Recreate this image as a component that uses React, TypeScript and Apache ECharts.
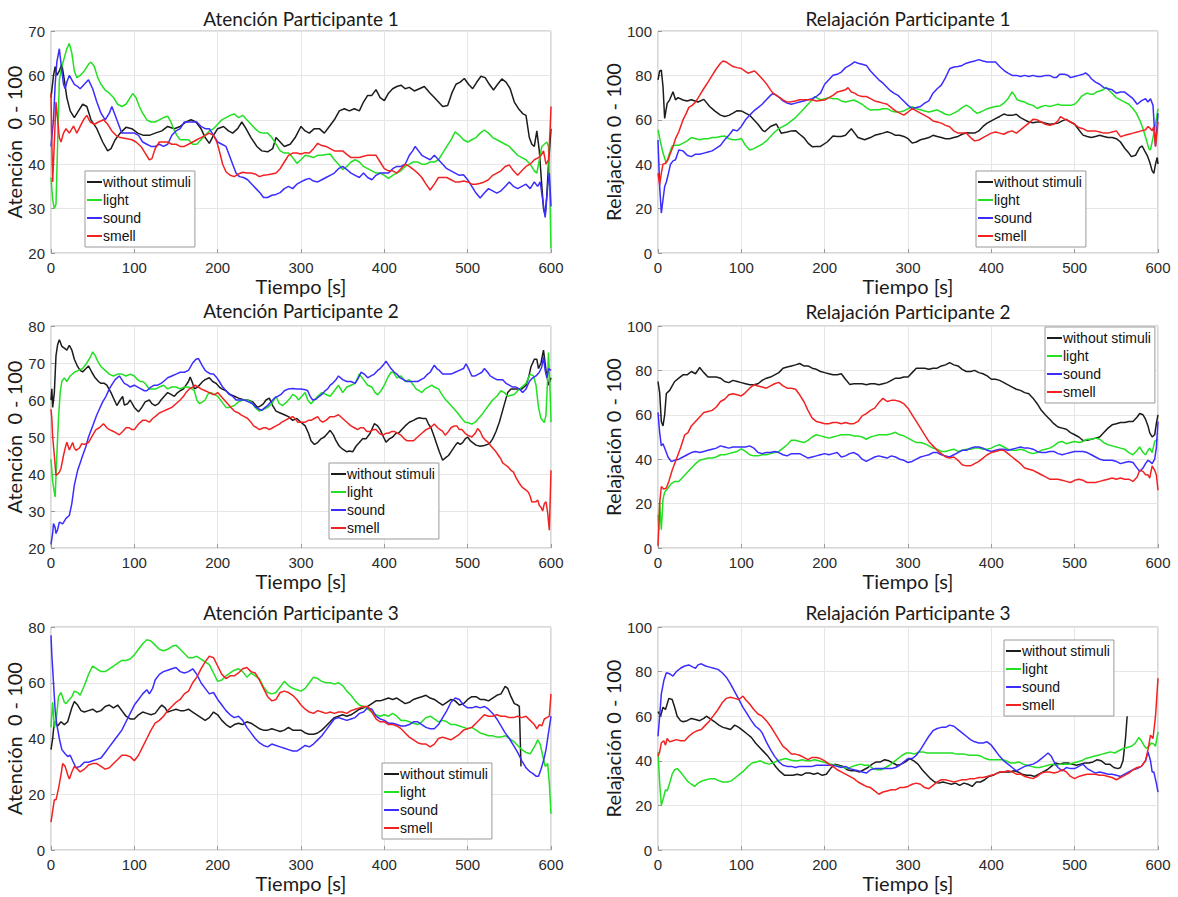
import React, { useEffect, useRef } from "react";
import * as echarts from "echarts";

type Pt = [number, number];

// ---------- texts & scales ----------
const SERIES_NAMES = ["without stimuli", "light", "sound", "smell"];
const X_NAME = "Tiempo [s]";
const X_MIN = 0;
const X_MAX = 600;
const X_STEP = 100;
const TITLES = [
  "Atención Participante 1",
  "Relajación Participante 1",
  "Atención Participante 2",
  "Relajación Participante 2",
  "Atención Participante 3",
  "Relajación Participante 3",
];
const Y_NAMES = [
  "Atención  0 - 100",
  "Relajación 0 - 100",
  "Atención  0 - 100",
  "Relajación 0 - 100",
  "Atención  0 - 100",
  "Relajación 0 - 100",
];
const Y_MIN = [20, 0, 20, 0, 0, 0];
const Y_MAX = [70, 100, 80, 100, 80, 100];
const Y_STEP = [10, 20, 10, 20, 20, 20];

// ---------- data: [time s, value] ----------
const att1None: Pt[] = [[0,55],[3,60],[5,62],[7,60],[10,61],[13,62.5],[16,59],[19,55],[23,52],[28,50.5],[33,52],[38,53.5],[43,53],[48,50],[55,48],[62,45],[68,43],[72,43.5],[77,45.5],[83,47],[90,48.3],[97,48],[104,47],[111,46.5],[118,46.5],[125,47],[133,47.5],[140,48.5],[148,48],[155,48.5],[162,49.5],[168,50],[174,49.5],[180,48],[185,46],[190,44.7],[195,46.5],[200,48],[207,48.5],[213,47.5],[218,47],[224,48],[229,49.5],[234,48],[240,46],[247,44],[253,43],[260,42.8],[266,43.5],[270,46],[275,45],[280,44],[287,44.5],[293,46],[300,48.5],[305,47.5],[310,47],[316,48],[322,48],[328,47],[334,48.5],[340,50],[346,52],[352,52.5],[358,52],[364,52.5],[370,52],[375,54],[380,55.5],[385,55.5],[390,56.8],[395,55],[400,54.3],[405,56],[410,57],[415,57.5],[420,57.8],[425,57],[430,57.3],[436,56.5],[442,57],[448,57.5],[455,56],[460,55],[465,54],[470,53],[476,53.2],[481,56],[486,58],[491,58.5],[496,59.3],[501,58],[506,57],[511,58.5],[516,59.8],[521,59.5],[526,58],[531,56.7],[536,58],[541,59.2],[546,58.5],[551,57],[556,54],[561,52.5],[566,51.4],[570,51],[574,46],[577,44.5],[580,44],[583,47.5],[586,43],[589,35],[591,30],[593,28.5],[595,33],[597,40],[600,48]];
const att1Light: Pt[] = [[0,37],[2,32],[4,30],[6,31],[8,45],[10,59],[13,62],[16,64],[19,66],[22,67.2],[25,65],[28,61],[31,59.5],[35,60],[40,61],[45,62.5],[48,63],[52,62],[56,59.5],[60,58],[65,56.7],[70,56],[75,55],[80,53.5],[85,53],[90,53.5],[95,55],[98,55.9],[102,55],[106,53],[110,51.5],[115,50],[120,49.5],[125,49.5],[130,50],[135,50.5],[140,50.8],[144,49.5],[147,48],[151,46.5],[155,45.5],[160,45.5],[165,45.5],[170,44.5],[175,44.5],[180,45.5],[185,46.5],[190,47.5],[195,48],[200,49],[205,50],[210,50.5],[215,51],[220,51.3],[225,50.5],[230,51],[235,50],[240,49],[245,48],[250,47.2],[255,47],[260,47],[265,46],[270,44.5],[275,43],[280,42.5],[285,42.5],[290,41.5],[295,40.2],[300,41],[305,42],[310,41.8],[315,41.5],[320,42],[325,42],[330,42.2],[335,42.3],[340,41],[345,40],[350,38.8],[355,39.5],[360,40.5],[365,41],[370,40.5],[375,39.5],[380,39],[385,38.5],[390,38],[395,38],[400,37.5],[405,36.8],[410,37.5],[415,38],[420,38.5],[425,39.5],[430,40],[435,40.5],[440,40.5],[445,40],[450,40],[455,40.5],[460,40.5],[465,41],[470,42.5],[475,44],[480,45.5],[485,47.3],[490,46.5],[495,45.5],[500,45],[505,45.5],[510,46],[515,47],[520,47.7],[525,47],[530,46],[535,45.5],[540,45],[545,44.5],[550,44],[555,43],[560,42],[565,41.5],[570,41],[575,40],[580,38.5],[583,38],[586,41],[589,44],[592,44.5],[595,45],[597,44],[599,30],[600,21]];
const att1Sound: Pt[] = [[0,44],[3,50],[5,58],[7,63],[10,66],[13,61],[15,58],[17,57],[19,58.5],[22,60],[25,59],[28,58],[32,57.5],[35,57],[40,58],[45,59],[50,57],[55,54],[60,51.5],[65,50],[70,51.5],[73,53],[77,51],[81,49],[85,47],[90,47],[95,47],[100,47],[105,46.5],[110,45],[115,44.5],[120,44],[125,44],[130,44.5],[135,44],[140,44.5],[145,46.5],[150,47.5],[155,48],[160,49.5],[165,49.5],[170,49.5],[175,49.5],[180,48.5],[185,48],[190,48],[195,46.5],[200,45],[205,44.5],[210,44],[214,42],[218,40],[222,38],[226,37.2],[231,37],[236,36.5],[241,35.5],[246,34.5],[251,33.5],[255,32.5],[260,32.5],[265,33],[270,33.2],[275,33.6],[280,34.5],[285,35],[290,34.5],[295,35.5],[300,36],[305,36.5],[310,36.8],[315,36.2],[320,36],[325,36.5],[330,37],[335,37.5],[340,38],[345,39],[350,39.5],[355,38.8],[360,38],[365,37.5],[370,37],[375,38],[380,37],[385,36.5],[390,37.5],[395,38],[400,38],[405,38],[410,39],[415,39.5],[420,39.5],[425,40],[430,42],[434,43],[437,44],[441,43],[445,42],[450,41.5],[455,41],[460,42],[465,41],[470,40],[475,39],[480,38.5],[485,38],[490,37.5],[495,37.6],[500,36.5],[505,35],[510,33.5],[515,32.4],[520,33.5],[525,34.5],[530,34],[535,33.5],[540,34],[545,35],[550,36],[555,35],[560,34.5],[565,35],[570,35.5],[575,34.5],[580,36],[584,35],[587,36],[590,32],[593,28],[596,35],[598,38],[600,30.5]];
const att1Smell: Pt[] = [[0,56],[1,45],[2,36],[4,45],[6,54],[8,50],[10,46],[12,45],[15,47],[18,48],[22,47],[27,48.6],[31,47],[35,48.5],[39,50],[43,51],[47,49.5],[52,49],[57,49.5],[63,50],[68,49],[73,47.5],[78,46.5],[83,46],[90,45.8],[97,45.5],[102,45],[108,44],[113,42.5],[118,41],[121,41.2],[125,43.5],[130,45],[135,45],[140,45],[145,44.5],[150,44.5],[155,44],[160,44],[165,44.5],[170,45],[175,45.5],[180,46],[185,46.5],[190,47],[195,46.5],[199,45],[202,43],[206,40],[210,38.3],[215,37.5],[220,37.2],[225,37.8],[230,38.2],[235,38],[240,38],[245,37.8],[250,37.2],[255,37.5],[260,37.6],[265,37.8],[270,38],[275,39],[280,40.5],[285,42],[290,42.5],[295,42.5],[300,42.3],[305,42.6],[310,42.5],[315,43.5],[320,44.7],[325,44.2],[330,44],[335,43.5],[340,43],[345,43],[350,43],[355,42.2],[360,41.5],[365,41.5],[370,41.5],[375,41.8],[380,42],[385,42],[390,42],[395,40.5],[400,39],[405,38.5],[410,38.5],[415,38],[420,39],[425,40],[430,39.5],[435,38.8],[440,38],[445,37],[450,35.5],[455,34.2],[460,35.5],[465,37],[470,37],[475,37],[480,36.5],[485,36],[490,36],[495,36.2],[500,36],[505,35.5],[510,35.5],[515,35.7],[520,36],[525,36.5],[530,37.5],[535,38],[540,38.5],[545,39.5],[550,39.8],[555,38.5],[560,37.5],[565,38.5],[570,39.5],[575,40],[580,41],[585,41.5],[588,42],[591,43],[594,40],[597,41],[599,48],[600,53]];

const rel1None: Pt[] = [[0,78],[2,82],[4,82.3],[6,75],[8,60.6],[11,67.4],[14,69],[18,72.6],[21,69],[24,70],[30,68.9],[35,68.5],[40,69],[48,68],[55,69.2],[62,66],[68,64],[75,62.1],[80,61.5],[85,62],[90,63],[95,64.1],[100,64],[105,63],[110,62],[115,60],[120,58],[125,55.5],[128,54.6],[135,57],[142,58.1],[148,53.9],[155,54.5],[160,55],[165,55.1],[170,53.5],[175,52],[180,49.5],[185,47.9],[190,48],[195,48],[203,50],[210,52.7],[215,52.5],[220,52.5],[225,53],[232,56],[236,54],[240,52],[248,51],[255,52],[260,53],[265,53.5],[270,54],[275,54.6],[280,54],[285,53],[290,53],[295,52.5],[300,51.5],[305,49.5],[310,50],[315,51],[320,51.5],[325,52],[330,53],[335,52.5],[340,52],[345,51.5],[350,51.5],[355,52],[360,52.5],[365,53.5],[370,54.2],[375,54],[380,54],[385,55],[390,57],[395,58.5],[400,59.5],[405,60.5],[410,61.5],[415,62.6],[420,62],[425,62],[430,62.5],[435,61],[440,60],[445,59],[450,58.7],[455,59],[460,59],[465,58.5],[470,58],[475,58.2],[480,58.5],[485,59.5],[490,60.2],[495,59],[500,58],[505,55.5],[510,53.1],[515,52.5],[520,52],[525,52.5],[530,53],[535,52.5],[540,52],[545,52],[550,51.5],[555,50],[560,47.2],[565,45],[568,43.4],[573,44],[578,47.5],[581,48.2],[584,46],[587,44],[590,41],[593,37],[595,35.9],[597,40],[599,43],[600,40]];
const rel1Light: Pt[] = [[0,55.4],[3,50],[6,45],[10,40.4],[13,44],[17,48.2],[21,48.5],[25,48.5],[30,49.5],[35,50.5],[40,52],[45,51.5],[50,51],[55,51.5],[60,51.5],[65,52],[70,52],[75,52.5],[80,52.7],[85,51.5],[90,51],[95,51],[100,51.6],[105,48.5],[110,46.4],[115,47],[120,48],[125,49],[130,50.5],[135,52.5],[140,54.5],[145,56],[150,57],[155,58],[160,59.5],[165,61],[170,63],[175,65],[180,67],[185,69],[188,70.4],[192,69.5],[196,69],[200,69.5],[205,70],[210,69.5],[215,69.5],[220,68.5],[225,68],[230,68.5],[235,68.9],[240,68],[245,67],[250,65.5],[255,64.4],[260,64.5],[265,64.5],[270,65],[275,65],[280,64],[285,63.5],[290,63.5],[295,64],[300,65],[305,65.9],[310,65],[315,64.5],[320,64],[325,63.5],[330,64],[335,64.5],[340,63.5],[345,62.5],[350,62.1],[355,63],[360,64],[365,65.5],[370,66.6],[375,65.5],[379,64],[383,62.9],[387,63.5],[390,64],[395,65],[400,65.5],[405,66],[410,66.2],[415,67.5],[420,69.5],[425,72.6],[428,71],[431,69],[435,68.5],[440,68],[445,67],[450,66.5],[455,65.1],[460,66],[465,66.5],[470,66],[475,66.5],[480,67],[485,66.5],[490,66.5],[495,66.5],[500,67],[504,68.5],[508,70.5],[512,71.5],[515,72],[519,71.5],[522,71.5],[526,72.5],[530,73],[534,73.5],[538,74.6],[542,73],[546,71.5],[550,70],[555,69],[560,68],[565,67],[570,65],[574,63],[578,60],[582,56],[586,51],[589,47],[591,46.4],[594,52],[597,58],[600,65]];
const rel1Sound: Pt[] = [[0,50.9],[2,30],[4,18],[6,24],[8,29.9],[10,32],[12,35],[15,40],[18,41.5],[21,42],[25,46.4],[30,46],[35,44],[40,43.4],[45,44.5],[50,44.5],[55,45],[60,45.5],[65,46],[70,47.2],[75,48.5],[80,51],[85,53],[90,55.5],[95,55],[100,57],[105,60],[110,62.1],[115,64],[120,65.5],[125,67],[130,69],[135,71],[138,71.9],[142,71],[146,70],[150,68.5],[155,67.5],[160,67],[165,67.5],[170,68],[175,68.5],[180,69],[185,69.5],[190,70.5],[195,72],[200,76],[205,78],[210,80.1],[215,80.5],[220,81.5],[225,83.5],[230,84.5],[236,86.1],[240,85.5],[245,85],[250,84.5],[255,82],[260,80],[265,78],[270,76.5],[278,73.4],[283,72],[288,71],[292,69.5],[296,68],[300,66.5],[305,65.1],[310,65.5],[315,66],[320,67.5],[325,68.5],[330,72],[335,74],[340,75.6],[345,79],[350,83],[355,83.8],[360,84],[365,84.5],[370,85.5],[375,86],[380,86.5],[385,87.1],[390,86.5],[395,86],[400,86],[405,86],[410,84],[415,82.3],[420,81],[425,80],[430,80],[435,79.5],[440,80],[445,79.5],[450,80],[455,79.5],[460,79.5],[465,80],[470,80],[475,79],[478,79],[482,80.5],[488,80.5],[492,80],[495,79],[500,79.5],[505,80],[510,80.5],[513,81.1],[517,80],[520,78.5],[525,77],[530,76],[535,74.5],[540,74],[545,73.5],[550,72],[555,72.5],[560,72.5],[565,71],[570,69.5],[575,67],[580,68.5],[585,69.5],[588,68],[591,69.5],[594,66.5],[597,48],[600,63]];
const rel1Smell: Pt[] = [[0,36],[2,30.7],[4,36],[6,40],[9,40.4],[12,42],[15,45],[18,48],[21,51.5],[25,54.6],[30,60],[34,63],[37,65.6],[41,66.5],[45,68],[50,71],[55,74.1],[60,77],[65,80],[70,83],[75,85.5],[78,86.5],[82,86],[86,85],[90,84],[95,83.5],[100,83.1],[104,82],[108,81],[112,81.5],[116,82],[120,80.5],[125,78.5],[130,76.3],[135,73.5],[138,72],[142,71.1],[146,70],[150,69],[155,68],[160,68.1],[165,68.5],[170,69],[175,69],[180,69],[185,69],[190,68.5],[195,68.7],[200,68.9],[205,70],[210,71],[215,72.5],[220,73],[225,73.5],[228,74.5],[232,72.5],[236,72],[240,71],[245,70.5],[250,70.5],[255,69.5],[260,68.5],[265,68],[270,67.5],[275,67],[280,65.5],[285,64],[290,63],[295,62.1],[300,63.5],[305,65],[310,64],[315,63],[320,62],[325,61],[330,59.5],[335,59],[340,58.5],[345,57.5],[350,56.9],[355,55],[360,54],[365,54],[370,54],[375,52],[380,50.5],[385,50.9],[390,52],[395,53],[400,54],[405,54.5],[410,54],[415,53.5],[420,54.5],[425,55],[430,54],[435,55.5],[440,57],[445,58.5],[450,60.2],[455,60],[460,59],[465,58],[470,57.5],[475,58],[480,59.5],[483,61.4],[487,60.5],[490,60],[495,59],[500,58],[505,56.5],[510,56],[515,55],[520,55],[525,55],[530,54.5],[535,54],[540,54],[545,54.5],[550,55],[555,52.4],[560,53],[565,53.5],[570,54],[575,54.5],[580,55],[585,55.5],[588,57],[591,56],[593,55],[595,57],[597,48],[600,59]];

const att2None: Pt[] = [[0,60],[1,63],[2,58],[4,62],[6,72],[8,75],[10,76.3],[13,74.5],[16,74],[19,73.5],[22,74.8],[25,73.5],[28,71],[32,69],[35,68],[38,67.6],[42,68.5],[45,69.2],[49,67.5],[53,66],[57,65],[60,64.5],[64,64.5],[67,64],[72,62],[76,60],[79,58.5],[83,60],[86,61],[88,58.6],[92,59],[95,60],[100,58],[105,56.8],[109,58],[113,59.5],[118,60],[121,59],[125,58.5],[129,59],[132,60],[136,61],[140,62],[144,61.5],[148,61],[152,62],[155,62.5],[159,63],[162,64],[165,65],[167,66.2],[170,64.5],[172,63],[176,63.5],[178,64],[182,65],[185,65.5],[190,66],[194,65],[198,64.5],[202,63.5],[205,63],[210,62.5],[215,61.5],[220,61],[225,60.5],[228,60.3],[232,60],[236,60],[242,59.5],[248,58],[252,58.5],[255,59],[258,60],[262,60.5],[266,58.5],[270,57],[275,56.5],[280,56],[285,55.5],[290,54.5],[295,55],[300,54],[305,53],[309,51],[312,49],[316,48],[320,48.5],[324,49.5],[328,50],[332,51],[335,51.8],[339,50.5],[342,49],[346,47.5],[350,46.7],[355,46],[358,46.2],[362,46],[366,47.5],[370,48.5],[374,49.5],[378,49.5],[383,51],[388,53.6],[392,53],[395,52],[399,50],[402,48.6],[406,49.5],[410,50],[414,51],[417,51],[421,52],[425,53],[430,54],[435,54.5],[439,55],[442,55.2],[446,55],[450,55],[453,53.5],[456,52.5],[460,50],[463,48],[466,46],[470,43.7],[474,44.5],[477,45],[480,46],[483,47],[486,48],[488,48.5],[491,48],[494,48.5],[497,49.5],[500,50],[503,49],[506,48.5],[510,47.8],[515,47.5],[520,47.7],[524,48],[527,48.5],[530,49.5],[534,51.5],[538,54],[543,58],[548,62],[552,63],[556,63],[560,63],[565,63],[570,64],[573,66],[576,69],[580,71],[583,71],[585,68.5],[588,70],[591,73.5],[594,68],[597,64],[600,66]];
const att2Light: Pt[] = [[0,44],[2,38],[4,35],[5,33.8],[7,45],[9,55],[11,62],[13,65],[16,66],[19,65],[23,66.5],[28,67.5],[33,68],[38,68.5],[43,70],[47,71.5],[50,73],[53,72],[56,70.5],[60,69],[65,68],[70,67],[75,66.5],[80,67],[85,67],[90,66.5],[95,67],[100,66.5],[104,65.5],[107,65],[110,65],[113,64.5],[116,63.5],[118,63],[122,63],[126,63],[130,63.5],[135,64],[140,63],[145,63.5],[150,63.5],[155,63],[160,63.5],[165,63.5],[169,63],[172,62.5],[175,60],[178,59],[182,59.5],[185,60],[188,61.5],[192,62],[196,61.5],[200,61],[205,59.5],[210,58],[214,58],[220,58.5],[225,59.5],[230,60],[235,60],[240,59.5],[245,58],[250,57],[255,57.5],[260,58],[265,59],[270,61],[274,59],[278,58.5],[283,59.5],[287,60.5],[290,61.5],[294,61],[297,60],[301,61],[305,62],[308,60],[312,59],[316,60],[320,61],[325,62],[330,61.5],[335,61],[340,62.5],[345,64],[350,62],[355,63.5],[360,64],[365,64.5],[370,67],[375,65.5],[380,64],[385,63.5],[389,62],[392,61.4],[396,62.5],[400,64],[404,66],[408,67.5],[411,67.5],[415,66],[420,66.5],[425,65],[430,65.5],[435,64],[438,63],[442,62.5],[445,62],[449,63],[453,63.5],[457,64],[460,63.5],[465,63],[469,61.5],[472,60.5],[476,59.5],[480,58.5],[484,57.5],[488,56.5],[493,55],[497,54],[500,53.9],[505,53.5],[509,54],[513,55],[517,56],[520,57],[525,58.5],[530,60],[535,61],[540,62.5],[544,62],[548,61],[552,61.3],[556,61.5],[560,62.5],[565,63.5],[570,64.5],[575,67],[579,66.5],[582,64],[585,58],[588,55],[592,53.9],[594,56],[596,66],[597,72.8],[599,62],[600,54]];
const att2Sound: Pt[] = [[0,21],[2,24],[3,26.6],[5,25.5],[6,23.9],[8,25],[10,27],[14,26.5],[18,28],[22,28.8],[25,32],[28,37],[32,41],[35,43],[38,45],[42,47.5],[45,50],[50,53],[55,56],[58,57.5],[62,59.5],[66,61],[70,63],[74,64.5],[77,65.5],[82,66.5],[85,65.5],[88,64.5],[92,64],[95,63.5],[100,64],[104,63.5],[108,63],[112,62.5],[115,62.5],[120,63.5],[124,64],[128,64],[132,64.5],[135,65],[140,66],[145,66.5],[150,67],[155,67.5],[160,67.5],[165,68],[170,70],[174,71],[177,71.2],[181,69.5],[185,68],[188,67.5],[192,67],[195,67],[199,66],[202,65],[206,63.5],[210,62.5],[214,61.5],[218,61],[222,60],[227,60],[232,60],[237,59.5],[242,59],[246,58],[250,57.5],[253,57.2],[257,58],[260,58.5],[264,59.5],[268,60.5],[272,61],[276,61.5],[280,62.5],[285,63],[290,63.1],[295,63],[300,63],[305,62.8],[308,62.5],[311,61],[314,60],[318,60.2],[322,61],[325,61.5],[329,62.5],[332,63],[335,64],[338,64.5],[342,65.5],[345,66.5],[350,65.5],[355,65],[360,65],[365,64.5],[369,66],[372,67.5],[376,67],[380,66],[384,66.5],[388,67],[392,68],[395,68.5],[399,69.5],[402,70.5],[405,69.5],[408,68.5],[412,67.5],[415,67],[419,66],[423,65.5],[427,65],[432,65],[436,65],[440,65],[444,65.5],[448,66],[452,67],[455,67.5],[460,69.4],[463,68.5],[466,68],[470,67],[475,67],[480,67],[485,67.5],[490,68],[495,68.5],[498,69.8],[501,68.5],[505,66.5],[509,66.5],[513,67],[517,67.5],[520,68.5],[524,67.5],[527,66.5],[531,66],[535,65.5],[539,65.5],[542,65.5],[546,64.5],[550,64],[554,63.5],[558,63.5],[562,63],[566,62],[570,63],[574,65],[578,66],[582,66.5],[586,67.5],[589,69],[591,71.6],[593,68],[595,66],[597,68.5],[600,68]];
const att2Smell: Pt[] = [[0,57.5],[1,55],[2,50],[4,45],[6,39.6],[8,40],[10,40.5],[12,41.5],[15,45],[17,47],[19,48.6],[22,46.5],[26,48.5],[28,47],[30,46.4],[34,47],[37,48.2],[40,48],[45,48.5],[50,50.5],[54,52],[58,52.5],[63,53.6],[67,52.5],[70,52],[75,51.5],[79,51],[82,50.6],[86,51.5],[90,52.5],[94,52.5],[97,52],[100,52],[105,53.5],[110,54.5],[114,54.5],[118,54],[122,55],[125,55.5],[130,56.5],[135,57],[140,57.5],[145,58],[150,59],[155,60],[159,61],[162,62],[166,63],[170,63.5],[173,64],[177,63.5],[180,63],[185,62.5],[190,62],[194,61.5],[197,61.5],[200,62],[204,61],[208,60],[212,59],[216,58],[220,57],[225,56.5],[228,56],[232,55.5],[236,55],[240,54],[243,53],[247,52.5],[250,52],[255,52.5],[258,52.5],[262,52],[266,52.5],[270,53],[274,53.5],[277,54],[281,54.5],[285,55],[290,55.5],[293,55],[296,54],[300,54],[305,54],[309,54.5],[312,54.5],[316,55],[320,55.5],[323,54.5],[326,54],[330,54.5],[335,55.5],[340,55.5],[345,56],[350,55],[355,54],[360,53],[364,52.5],[368,52],[371,52.5],[375,52.5],[379,51.5],[383,51.5],[387,52],[390,52],[394,51],[398,50.5],[402,51],[405,51],[409,51.5],[412,51.5],[416,51],[420,50.5],[424,49.5],[427,49],[431,49],[435,49],[440,50],[445,51],[450,52],[455,52.5],[460,53.5],[464,52.5],[467,52],[470,51.5],[473,50.5],[477,51.5],[480,52.5],[484,53],[487,53],[490,52],[493,52],[497,51],[500,50.5],[505,50],[509,51],[512,52.3],[515,51.5],[518,50],[522,49],[525,48.5],[528,47.5],[530,47],[534,46],[537,45],[540,44],[542,43],[545,42.5],[548,42],[552,41],[555,40.5],[558,39],[562,37.5],[565,36.5],[568,36],[571,35.5],[573,35],[575,34],[577,32.4],[580,32.5],[582,32.5],[584,33],[586,31.5],[588,31],[590,30],[592,32],[594,32.5],[596,29.5],[598,24.8],[600,41]];

const rel2None: Pt[] = [[0,75],[2,70],[4,57],[6,55],[8,60],[10,69.6],[14,71],[17,73],[20,75],[25,76.5],[30,78],[35,78],[40,79.5],[45,78.5],[50,81.3],[55,79],[60,77],[65,77],[70,77],[75,76.5],[80,75],[85,74.5],[90,75.5],[95,75],[100,74.5],[105,74],[110,73.5],[115,73.5],[120,74],[125,75.5],[130,76.5],[135,77],[140,78],[145,79],[150,81],[155,81.5],[160,82],[165,82.5],[170,83.1],[175,82],[180,82],[185,81],[190,80.5],[195,79.5],[200,79],[205,78.5],[210,78],[215,78],[220,78.5],[225,76],[230,73.7],[235,74],[240,74],[245,74],[250,73.5],[255,74],[260,74],[265,73.5],[270,74],[275,74.5],[280,75.5],[285,76.5],[290,76.5],[295,77],[300,77],[305,79],[310,81],[315,81],[320,81],[325,80.5],[330,81],[335,81],[340,82],[345,82.5],[350,83.5],[355,82.5],[360,82],[365,80.5],[370,79.5],[375,79.5],[380,80],[385,79],[390,78.5],[395,77.5],[400,76],[405,76],[410,75.5],[415,74.5],[420,73.5],[425,72.5],[430,71.5],[435,71],[440,70],[445,69.5],[450,67.5],[455,65],[460,62],[465,59.9],[470,58],[475,56],[480,54.5],[485,54],[490,53.5],[495,52],[500,51],[505,50],[510,48.4],[515,48.5],[520,49],[525,49.5],[530,50],[535,52],[540,54],[545,55.5],[550,56],[555,56.5],[560,56.5],[565,57],[570,57],[575,59],[578,60.6],[582,60],[585,58],[588,55],[590,52],[593,50],[596,51],[598,56],[600,60]];
const rel2Light: Pt[] = [[0,15],[1,8],[2,20],[4,8.2],[6,22],[8,25.1],[12,27],[16,29],[20,30],[25,30],[30,32],[35,34],[40,36],[45,38],[50,39.5],[55,40],[60,40.5],[65,40.5],[70,41],[75,42],[80,42],[85,42.5],[90,43],[95,43.5],[100,44.7],[105,43.5],[110,42],[115,41.5],[120,41.5],[125,42],[130,42],[135,42.5],[140,43],[145,43.5],[150,45],[155,46.5],[160,48.5],[165,48.5],[170,48],[175,47.5],[180,48.5],[185,50],[190,51],[195,50.5],[200,50],[205,49.5],[210,50],[215,50.5],[220,51],[225,51],[230,51],[235,50.5],[240,50.5],[245,50],[250,49],[255,50],[260,50.5],[265,51],[270,51],[275,51],[280,51.5],[285,52.1],[290,51],[295,50.5],[300,49.5],[305,48.5],[310,47.5],[315,47.5],[320,47],[325,46],[330,45],[335,44.5],[340,43.5],[345,43.5],[350,44],[355,44.5],[360,43.5],[365,44],[370,44.5],[375,44.5],[380,45],[385,45],[390,44.5],[395,44.5],[400,45],[405,46],[410,46.5],[415,45.5],[420,44.5],[425,44],[430,44],[435,44.5],[440,44],[445,43],[450,42.5],[455,43],[460,44],[465,44.5],[470,45],[475,46],[480,47.5],[485,48],[490,47],[495,47.5],[500,48],[505,47.5],[510,48],[515,49],[520,49],[525,49.5],[530,49],[535,47.5],[540,46.5],[545,46],[550,45.5],[555,45],[560,44.5],[565,43],[570,42],[575,44],[578,45.5],[582,43],[585,42],[588,44],[590,45],[593,43],[596,48],[600,49]];
const rel2Sound: Pt[] = [[0,61.1],[2,52],[4,46],[6,47],[9,44],[12,41],[16,38.9],[20,39.5],[25,40],[30,41],[35,42],[40,43],[45,43.5],[50,43],[55,43.5],[60,44],[65,44.5],[70,45],[75,46],[80,45.5],[85,45],[90,45.5],[95,45.5],[100,45.5],[105,45.5],[110,46],[115,45],[120,43],[125,42.5],[130,43],[135,43],[140,43.5],[145,43],[150,42],[155,41.5],[160,42.5],[165,42.5],[170,42.5],[175,41.5],[180,40.5],[185,41],[190,41.5],[195,42],[200,42.5],[205,42],[210,42.5],[215,43],[220,41],[225,41.5],[230,42.5],[235,43],[240,42],[245,40],[250,39],[255,40],[260,41],[265,41.5],[270,41],[275,40.5],[280,41.5],[285,41],[290,40],[295,39.5],[300,38.5],[305,39],[310,40],[315,41],[320,41.5],[325,42],[330,43],[335,43],[340,42],[345,41.5],[350,41],[355,42],[360,43],[365,44],[370,44],[375,45],[380,45.5],[385,45.5],[390,45],[395,44],[400,43.5],[405,44],[410,44.5],[415,44.5],[420,44],[425,44.5],[430,45],[435,45.5],[440,45],[445,45],[450,44.5],[455,43.5],[460,43],[465,43],[470,43.5],[475,43.5],[480,42.5],[485,42],[490,42.5],[495,43],[500,43.5],[505,43.5],[510,43.5],[515,43],[520,42],[525,41],[530,40],[535,39.5],[540,39.5],[545,39.5],[550,39],[555,38],[560,38.5],[565,39],[570,38.5],[575,36],[578,34.5],[582,36],[585,38],[588,39.5],[590,39],[593,38],[596,40],[598,45],[600,57]];
const rel2Smell: Pt[] = [[0,1],[1,10],[2,20],[4,27.7],[7,26.5],[10,27],[13,30],[17,35],[22,40],[27,45],[32,50.9],[36,52],[40,55],[45,57],[50,59],[55,61],[60,61.5],[65,62],[70,63.5],[75,66],[80,67],[85,69],[90,69.5],[95,69],[100,68.5],[105,70],[110,72],[115,73.5],[120,73],[125,72.5],[130,72],[135,73],[140,74],[145,74.6],[150,73],[155,72],[160,72],[165,71.5],[170,69],[175,66],[180,62],[185,58.5],[190,57],[195,56.5],[200,56],[205,56],[210,56.5],[215,56.5],[220,56],[225,56.5],[230,56],[235,56],[240,57],[245,59.5],[250,60.5],[255,62],[260,63],[265,65.5],[270,67.4],[275,66],[280,66.5],[285,66.5],[290,66],[295,65],[300,63],[305,60],[310,57],[315,54],[320,51],[325,48],[330,46],[335,44],[340,42.5],[345,41],[350,40.5],[355,41],[360,39.5],[365,37.5],[370,37],[375,37],[380,38],[385,39],[390,40.5],[395,42],[400,43],[405,43.5],[410,44],[415,44],[420,42.5],[425,41],[430,39.5],[435,38],[440,36],[445,35.5],[450,35],[455,34],[460,33],[465,32],[470,31],[475,31],[480,31],[485,30.5],[490,30],[495,29.5],[500,30.5],[505,31],[510,30.5],[515,29.5],[520,29.5],[525,29.5],[530,30],[535,30.5],[540,31],[545,31.5],[550,31],[555,31.5],[560,31],[565,31],[570,30],[575,32],[578,35],[582,34.5],[585,33],[588,33],[590,31.5],[593,37],[596,35],[598,33],[600,26]];

const att3None: Pt[] = [[0,36],[2,40],[4,46],[8,44.5],[12,46],[16,45],[20,46],[25,51],[28,53.3],[32,52],[36,50],[40,49.5],[45,50],[50,50.5],[55,49.5],[60,50],[65,51.5],[70,52],[75,51],[80,52],[85,50],[90,48],[95,47],[100,47],[105,48.5],[110,49.5],[115,49],[120,48.5],[125,49],[130,51],[133,52],[137,51],[140,49.5],[145,50],[150,50.5],[155,50],[160,50],[165,50.5],[170,49.5],[175,48.5],[180,47.5],[185,46.5],[190,47.5],[195,49.5],[200,48.5],[205,46.5],[210,45],[215,44],[220,45],[225,45.5],[230,45],[235,46],[240,45.5],[245,44.5],[250,43.5],[255,43],[260,43],[265,43.5],[270,43],[275,42.5],[280,43],[285,44],[290,43],[295,43],[300,43],[305,42],[310,41.5],[315,41.5],[320,42],[325,43],[330,44.5],[335,46],[340,47.5],[345,48],[350,48.5],[355,48],[360,48.5],[365,49.5],[370,50.5],[375,51],[380,51.5],[385,52.5],[390,53.5],[395,53.5],[400,54],[405,54.5],[410,54],[415,54.5],[420,53.5],[425,52.5],[430,53],[435,54],[440,54.5],[445,55],[450,55.5],[455,54.5],[460,54],[465,53],[470,52],[475,53],[480,54],[485,53.5],[490,52],[495,52.5],[500,54],[505,55],[510,55],[515,54],[520,54],[525,53.5],[530,54.5],[535,55.5],[540,56],[545,58.7],[548,58],[552,55],[556,52.5],[560,52],[562,51.5],[564,30]];
const att3Light: Pt[] = [[0,44],[2,53],[4,44],[6,46],[9,55],[12,56.5],[16,53],[18,52.5],[22,54],[25,55],[28,57],[32,56.5],[35,55.5],[40,59],[45,63],[50,66],[55,65],[60,64],[65,64],[70,65],[75,66],[80,67],[85,68],[90,68],[95,68.5],[100,70],[105,72],[110,74],[115,75.4],[120,75],[125,73.5],[130,72],[135,71.5],[140,72],[145,73],[150,73.5],[155,72],[160,70.5],[165,69],[170,69],[175,69.5],[180,68.5],[185,67.5],[190,66.5],[195,63.5],[200,60.5],[205,61],[210,62.5],[215,63.5],[220,64.5],[225,65],[230,64],[235,62],[240,63.5],[245,62.5],[250,61.5],[255,58.5],[260,56.5],[265,56],[270,56.5],[275,58.5],[280,60.5],[285,59],[290,58],[295,57.5],[300,57],[305,58],[310,60],[315,62],[320,61.5],[325,60.5],[330,60],[335,60],[340,59.5],[345,60],[350,59],[355,57],[360,55.5],[365,53.5],[370,52],[375,51.5],[380,50.5],[385,49.5],[390,48.5],[395,48],[400,48.5],[405,48],[410,49],[415,48],[420,46.5],[425,46.5],[430,46],[435,45.5],[440,45],[445,46],[450,47.5],[455,48],[460,47],[465,46],[470,46.5],[475,46],[480,45],[485,45],[490,44.5],[495,44],[500,43.5],[505,44],[510,43],[515,42],[520,41.5],[525,41],[530,41],[535,40.5],[540,40.5],[545,41],[550,40],[555,39],[560,37.5],[565,36],[570,35],[575,34.5],[578,36],[581,37.5],[584,39.5],[587,38],[590,34],[593,30],[596,31],[598,24],[600,13]];
const att3Sound: Pt[] = [[0,77],[1,70],[3,60],[5,50],[7,45],[10,40],[13,36],[17,34.5],[20,33.5],[23,34],[26,32],[30,29.5],[35,30],[40,31.5],[45,31.5],[50,32],[55,32.5],[60,33],[65,35],[70,37],[75,39],[80,41],[85,43],[90,46],[95,49],[100,52],[105,54],[110,56],[115,57.5],[118,56],[122,58],[125,61],[130,63],[135,64],[140,64.5],[145,65],[150,65.5],[155,64],[160,63.5],[165,64],[170,65],[175,63],[180,60],[185,58],[190,56],[195,56.5],[200,54],[205,52],[210,50],[215,48.5],[220,47.5],[225,48],[230,46.5],[235,44],[240,42],[245,40],[250,38.5],[255,37.5],[260,37],[265,38],[270,37.5],[275,37],[280,36.5],[285,36],[290,35.5],[295,35.5],[300,36.5],[305,37.5],[310,37],[315,38],[320,39.5],[325,41],[330,43],[335,45],[340,47],[345,47.5],[350,47],[355,46.5],[360,47],[365,47.5],[370,49],[375,49.5],[380,51],[385,50.5],[390,48],[395,47],[400,46.5],[405,45.5],[410,45.5],[415,45],[420,44.5],[425,44.5],[430,45],[435,46],[440,46],[445,45],[450,44],[455,43.5],[460,43.5],[465,45],[470,47.5],[475,50],[480,53],[485,54.5],[490,54],[495,52],[500,51],[505,51],[510,51.5],[515,51],[520,51.5],[525,50.5],[530,49],[535,47],[540,44.5],[545,42],[550,40],[555,37.5],[560,35],[565,32],[570,29.5],[575,28],[578,27.5],[582,26.5],[585,26.5],[588,29],[591,32],[594,36],[597,42],[600,48]];
const att3Smell: Pt[] = [[0,10],[2,14],[4,18],[6,18],[9,22],[12,27],[14,31],[17,30],[20,27],[22,25.5],[25,28],[28,30],[32,29],[35,28],[40,29],[45,30.5],[50,31],[55,31],[60,30],[65,29],[70,29.5],[75,31],[80,32.5],[85,34],[90,34],[95,33.5],[100,32],[105,34],[110,37],[115,40],[120,43],[125,45.5],[130,46.5],[135,48],[140,50],[145,51.5],[150,53],[155,54],[160,56],[165,57],[170,60],[175,62],[180,65],[185,67.5],[190,69.5],[195,69],[200,66],[205,63],[210,61.5],[215,62.5],[220,62.5],[225,63.5],[230,65],[235,65.5],[240,64],[245,63.5],[250,61],[255,58],[260,55],[265,53.5],[270,54],[275,56.5],[280,57],[285,56.5],[290,55.5],[295,54],[300,52],[305,50.5],[310,49.5],[315,49],[320,50],[325,49.5],[330,49],[335,49.5],[340,49],[345,49.5],[350,49.5],[355,49],[360,50],[365,50.5],[370,51],[375,51.5],[380,51.5],[385,49.5],[390,47],[395,46],[400,46],[405,45],[410,45],[415,44.5],[420,43.5],[425,42],[430,40.5],[435,39.5],[440,38.5],[445,38],[450,38],[455,37],[460,38],[465,40],[470,40.5],[475,40],[480,39.5],[485,40.5],[490,41.5],[495,43],[500,43.5],[505,44],[510,45.5],[515,47],[520,48.5],[525,48],[530,48],[535,48.5],[540,48],[545,48],[550,47.5],[555,47.5],[560,48],[565,47.5],[570,48],[575,46.5],[580,45],[583,43.5],[586,45],[589,44.5],[592,47],[595,47.5],[598,48],[600,56]];

const rel3None: Pt[] = [[0,62],[3,60],[6,64],[9,63],[13,68],[17,67.5],[20,64],[23,60],[27,58],[30,57.5],[35,58],[40,59],[45,58.5],[50,58],[55,59],[58,60],[62,59],[68,57.5],[73,56],[78,55],[83,54.5],[87,54],[92,56],[97,55],[102,53.5],[107,52],[112,50.5],[117,48],[122,46],[127,44],[132,42],[137,39.5],[142,37],[147,35],[152,33.5],[157,33.5],[162,33.5],[167,34],[172,33.5],[177,34.5],[182,34.5],[187,34],[192,34.5],[197,33.5],[202,34],[207,36.5],[212,38.5],[217,38],[222,37.5],[227,36],[232,35.5],[237,35.5],[242,35],[247,36],[252,37],[257,38.5],[262,39.5],[267,39.5],[272,40.5],[277,40],[282,39],[287,38],[292,38.5],[297,39.5],[302,41],[307,40],[312,38.5],[317,36],[322,34],[327,32],[332,30.5],[337,30],[342,30.5],[347,30],[352,29.5],[357,30],[362,29],[367,30],[372,29.5],[377,28.5],[382,30.5],[387,30.5],[392,31.5],[397,33],[402,33.5],[407,34.5],[412,35],[417,35],[422,35],[427,35.5],[432,35],[437,34],[442,33.5],[447,33.5],[452,33],[457,34],[462,35],[467,36],[472,37.5],[477,39],[482,38.5],[487,39],[492,39],[497,38.5],[502,38],[507,38.5],[512,39],[517,39],[522,39.5],[527,40.5],[532,40],[537,38.5],[542,38.5],[547,37],[552,36.5],[555,37],[558,40],[561,50],[563,60]];
const rel3Light: Pt[] = [[0,44],[2,30],[4,20],[7,24],[9,27],[11,26.5],[14,30],[17,34],[20,36],[23,36.5],[27,35],[31,33],[35,31],[40,29.5],[44,28.5],[48,30],[53,31],[58,31.5],[63,32],[68,32],[73,31],[78,30.5],[83,30.5],[88,31],[93,32.5],[98,34],[103,35.5],[108,37.5],[113,39],[118,39.5],[123,40],[128,39],[133,38.5],[138,39],[143,40],[148,40.5],[153,41],[158,40.5],[163,40],[168,40],[173,40.5],[178,40],[183,40],[188,40.5],[193,40],[198,39.5],[203,39],[208,38.5],[213,38],[218,37.5],[223,37],[228,36.5],[233,37.5],[238,38],[243,38.5],[248,38],[253,38],[258,36.5],[263,36],[268,36],[273,37],[278,38],[283,39.5],[288,41],[293,42.5],[298,43.5],[303,43.5],[308,43],[313,44],[318,44],[323,43.5],[328,43.5],[333,43.5],[338,43.5],[343,43.5],[348,43.5],[353,43.5],[358,43],[363,43],[368,43],[373,42.5],[378,42.5],[383,42.5],[388,42],[393,41],[398,40.5],[403,40.5],[408,40.5],[413,40.5],[418,40],[423,39],[428,39],[433,39.5],[438,38.5],[443,38],[448,37.5],[453,37],[458,37],[463,37.5],[468,38],[473,38.5],[478,38],[483,38.5],[488,38.5],[493,38.5],[498,39],[503,39.5],[508,40],[513,41],[518,41.5],[523,42],[528,42.5],[533,43],[538,43.5],[543,44],[548,43.5],[553,44.5],[558,45.5],[563,46],[568,46.5],[573,48],[577,50.5],[580,49],[583,47],[586,45.5],[589,46.5],[592,48],[595,47.5],[597,46.5],[600,53]];
const rel3Sound: Pt[] = [[0,51],[2,60],[4,70],[7,76],[10,79.5],[14,79],[18,78],[22,80],[27,81.5],[32,82.5],[37,83],[42,82],[45,81.5],[48,83],[52,83.5],[57,82.5],[62,82],[67,81.5],[72,81],[77,79.5],[82,77.5],[87,74.5],[92,71],[97,67.5],[102,64],[107,61],[112,58],[117,55.5],[122,54],[125,52.5],[130,48.5],[135,45],[140,42],[145,39.5],[150,38],[155,37.5],[160,37.5],[165,37],[170,37.5],[175,37.5],[180,37.5],[185,37.5],[190,38],[195,38],[200,38],[205,38],[210,38],[215,37.5],[220,37],[225,37.5],[230,36.5],[235,36],[240,35.5],[245,35],[250,34.5],[255,36],[260,36.5],[265,36.5],[270,36.5],[275,36.5],[280,36.5],[285,37],[290,38],[295,39.5],[300,41],[305,41],[310,42.5],[315,45],[320,48],[325,51],[330,53.5],[335,54.5],[340,55],[345,55],[350,56],[355,55.5],[360,54],[365,52.5],[370,51],[375,49.5],[380,48.5],[385,48],[390,48],[395,48.5],[400,47],[405,44.5],[410,42],[415,40],[420,38.5],[425,37],[430,35.5],[435,36.5],[440,37.5],[445,38],[450,38.5],[455,39.5],[460,41],[465,42.5],[468,43.5],[472,42],[476,39],[480,37],[485,35.5],[490,37],[495,36.5],[500,36.5],[505,37.5],[510,38.5],[515,36.5],[520,35.5],[525,34.5],[530,35],[535,34.5],[540,34],[545,34],[550,33.5],[555,33],[560,34],[565,35],[570,36],[575,36.5],[580,37.5],[585,40],[588,44],[591,40],[593,35],[595,35],[598,30],[600,26]];
const rel3Smell: Pt[] = [[0,42],[2,44],[4,48],[7,49],[9,47],[11,50],[14,48.5],[18,49],[22,49.5],[27,49],[32,49],[37,51],[42,52.5],[47,53.5],[52,54],[57,56],[62,58],[67,60.5],[72,63],[77,66],[82,68],[87,68.5],[92,68],[97,67.5],[102,69],[105,67.5],[110,65.5],[115,63],[120,61],[125,60],[130,58],[135,55.5],[140,52.5],[145,49.5],[150,46.5],[155,45],[160,43],[165,43],[170,42.5],[175,41.5],[180,40.5],[185,41.5],[190,41.5],[195,41],[200,40],[205,38.5],[210,37.5],[215,36],[220,35],[225,34],[230,33],[235,32],[240,30.5],[245,29.5],[250,28.5],[255,28],[260,26.5],[265,25],[270,26],[275,26.5],[280,27],[285,27],[290,28],[295,28],[300,28.5],[305,29.5],[310,30],[315,29.5],[320,28],[325,27.5],[330,29],[335,30.5],[340,31.5],[345,31.5],[350,31],[355,30.5],[360,31],[365,31.5],[370,31.5],[375,32],[380,32],[385,32.5],[390,32.5],[395,33],[400,33.5],[405,34],[410,35],[415,35],[420,35.5],[425,35],[430,34],[435,34],[440,33],[445,32.5],[450,32],[455,33],[460,34.5],[465,35],[470,35],[475,34.5],[480,35],[485,36],[490,35],[495,33],[500,32],[505,33],[510,33.5],[515,34],[520,34],[525,34],[530,33.5],[535,33.5],[540,33],[545,32.5],[550,31.5],[555,32.5],[560,33.5],[565,34.5],[570,36],[575,37],[580,37.5],[585,40],[588,45],[591,51.5],[594,50],[597,60],[600,77]];

const PANEL_SERIES: Pt[][][] = [
  [att1None, att1Light, att1Sound, att1Smell],
  [rel1None, rel1Light, rel1Sound, rel1Smell],
  [att2None, att2Light, att2Sound, att2Smell],
  [rel2None, rel2Light, rel2Sound, rel2Smell],
  [att3None, att3Light, att3Sound, att3Smell],
  [rel3None, rel3Light, rel3Sound, rel3Smell],
];

// ---------- layout & style ----------
const COLORS = ["#1c1c1c", "#22e022", "#3b2dff", "#f22222"];
const PLOT_W = 500;
const LAYOUT = [
  { left: 51, top: 31, height: 222, titleY: 18, yGap: 20, legendLeft: 85, legendTop: 171 },
  { left: 658, top: 31, height: 222, titleY: 18, yGap: 27, legendLeft: 976, legendTop: 171 },
  { left: 51, top: 326, height: 222, titleY: 310, yGap: 20, legendLeft: 329, legendTop: 463 },
  { left: 658, top: 326, height: 222, titleY: 311, yGap: 27, legendLeft: 1045, legendTop: 327 },
  { left: 51, top: 627, height: 223, titleY: 612, yGap: 20, legendLeft: 382, legendTop: 763 },
  { left: 658, top: 627, height: 223, titleY: 612, yGap: 27, legendLeft: 1004, legendTop: 640 },
];
const TITLE_FONT = "Lato, 'Open Sans', sans-serif";
const TICK_FONT = "'Liberation Sans', Arial, sans-serif";

function buildOption() {
  const grid: any[] = [];
  const xAxis: any[] = [];
  const yAxis: any[] = [];
  const series: any[] = [];
  const title: any[] = [];
  const legend: any[] = [];

  LAYOUT.forEach((g, i) => {
    grid.push({
      left: g.left,
      top: g.top,
      width: PLOT_W,
      height: g.height,
      show: true,
      backgroundColor: "#ffffff",
      borderColor: "#b0b0b0",
      borderWidth: 1,
    });
    title.push({
      text: TITLES[i],
      left: g.left + PLOT_W / 2,
      top: g.titleY,
      textAlign: "center",
      textVerticalAlign: "middle",
      padding: 0,
      textStyle: { fontFamily: TITLE_FONT, fontSize: 19, fontWeight: "normal", color: "#1a1a1a" },
    });
    xAxis.push({
      type: "value",
      gridIndex: i,
      min: X_MIN,
      max: X_MAX,
      interval: X_STEP,
      name: X_NAME,
      nameLocation: "middle",
      nameGap: 22,
      nameTextStyle: { fontFamily: TITLE_FONT, fontSize: 20, color: "#1a1a1a" },
      axisLine: { show: false },
      axisTick: { show: true, inside: true, length: 4, lineStyle: { color: "#999" } },
      axisLabel: { margin: 7, fontFamily: TICK_FONT, fontSize: 15, color: "#2a2a2a" },
      splitLine: { show: true, lineStyle: { color: "#e6e6e6", width: 1 } },
    });
    yAxis.push({
      type: "value",
      gridIndex: i,
      min: Y_MIN[i],
      max: Y_MAX[i],
      interval: Y_STEP[i],
      name: Y_NAMES[i],
      nameLocation: "middle",
      nameGap: g.yGap,
      nameTextStyle: { fontFamily: TITLE_FONT, fontSize: 20, color: "#1a1a1a" },
      axisLine: { show: false },
      axisTick: { show: true, inside: true, length: 4, lineStyle: { color: "#999" } },
      axisLabel: { margin: 6, fontFamily: TICK_FONT, fontSize: 15, color: "#2a2a2a" },
      splitLine: { show: true, lineStyle: { color: "#e6e6e6", width: 1 } },
    });
    PANEL_SERIES[i].forEach((data, k) => {
      series.push({
        type: "line",
        name: SERIES_NAMES[k],
        xAxisIndex: i,
        yAxisIndex: i,
        data,
        showSymbol: false,
        symbol: "none",
        color: COLORS[k],
        lineStyle: { color: COLORS[k], width: 1.5 },
        itemStyle: { color: COLORS[k] },
        z: 2 + k * 0.1,
      });
    });
    legend.push({
      data: SERIES_NAMES,
      orient: "vertical",
      left: g.legendLeft,
      top: g.legendTop,
      icon: "rect",
      itemWidth: 15,
      itemHeight: 2,
      itemGap: 4,
      padding: [4, 4, 4, 2],
      backgroundColor: "#ffffff",
      borderColor: "#9a9a9a",
      borderWidth: 1,
      borderRadius: 0,
      selectedMode: false,
      textStyle: { fontFamily: TICK_FONT, fontSize: 14, color: "#111", padding: [0, 0, 0, -4] },
    });
  });

  return {
    animation: false,
    backgroundColor: "#ffffff",
    title,
    grid,
    xAxis,
    yAxis,
    legend,
    series,
  };
}

export default function App() {
  const ref = useRef<HTMLDivElement | null>(null);
  useEffect(() => {
    document.body.style.margin = "0";
    if (!ref.current) return;
    const chart = echarts.init(ref.current, undefined, { renderer: "svg" });
    chart.setOption(buildOption() as any);
    return () => chart.dispose();
  }, []);
  return <div ref={ref} style={{ width: 1178, height: 897 }} />;
}
